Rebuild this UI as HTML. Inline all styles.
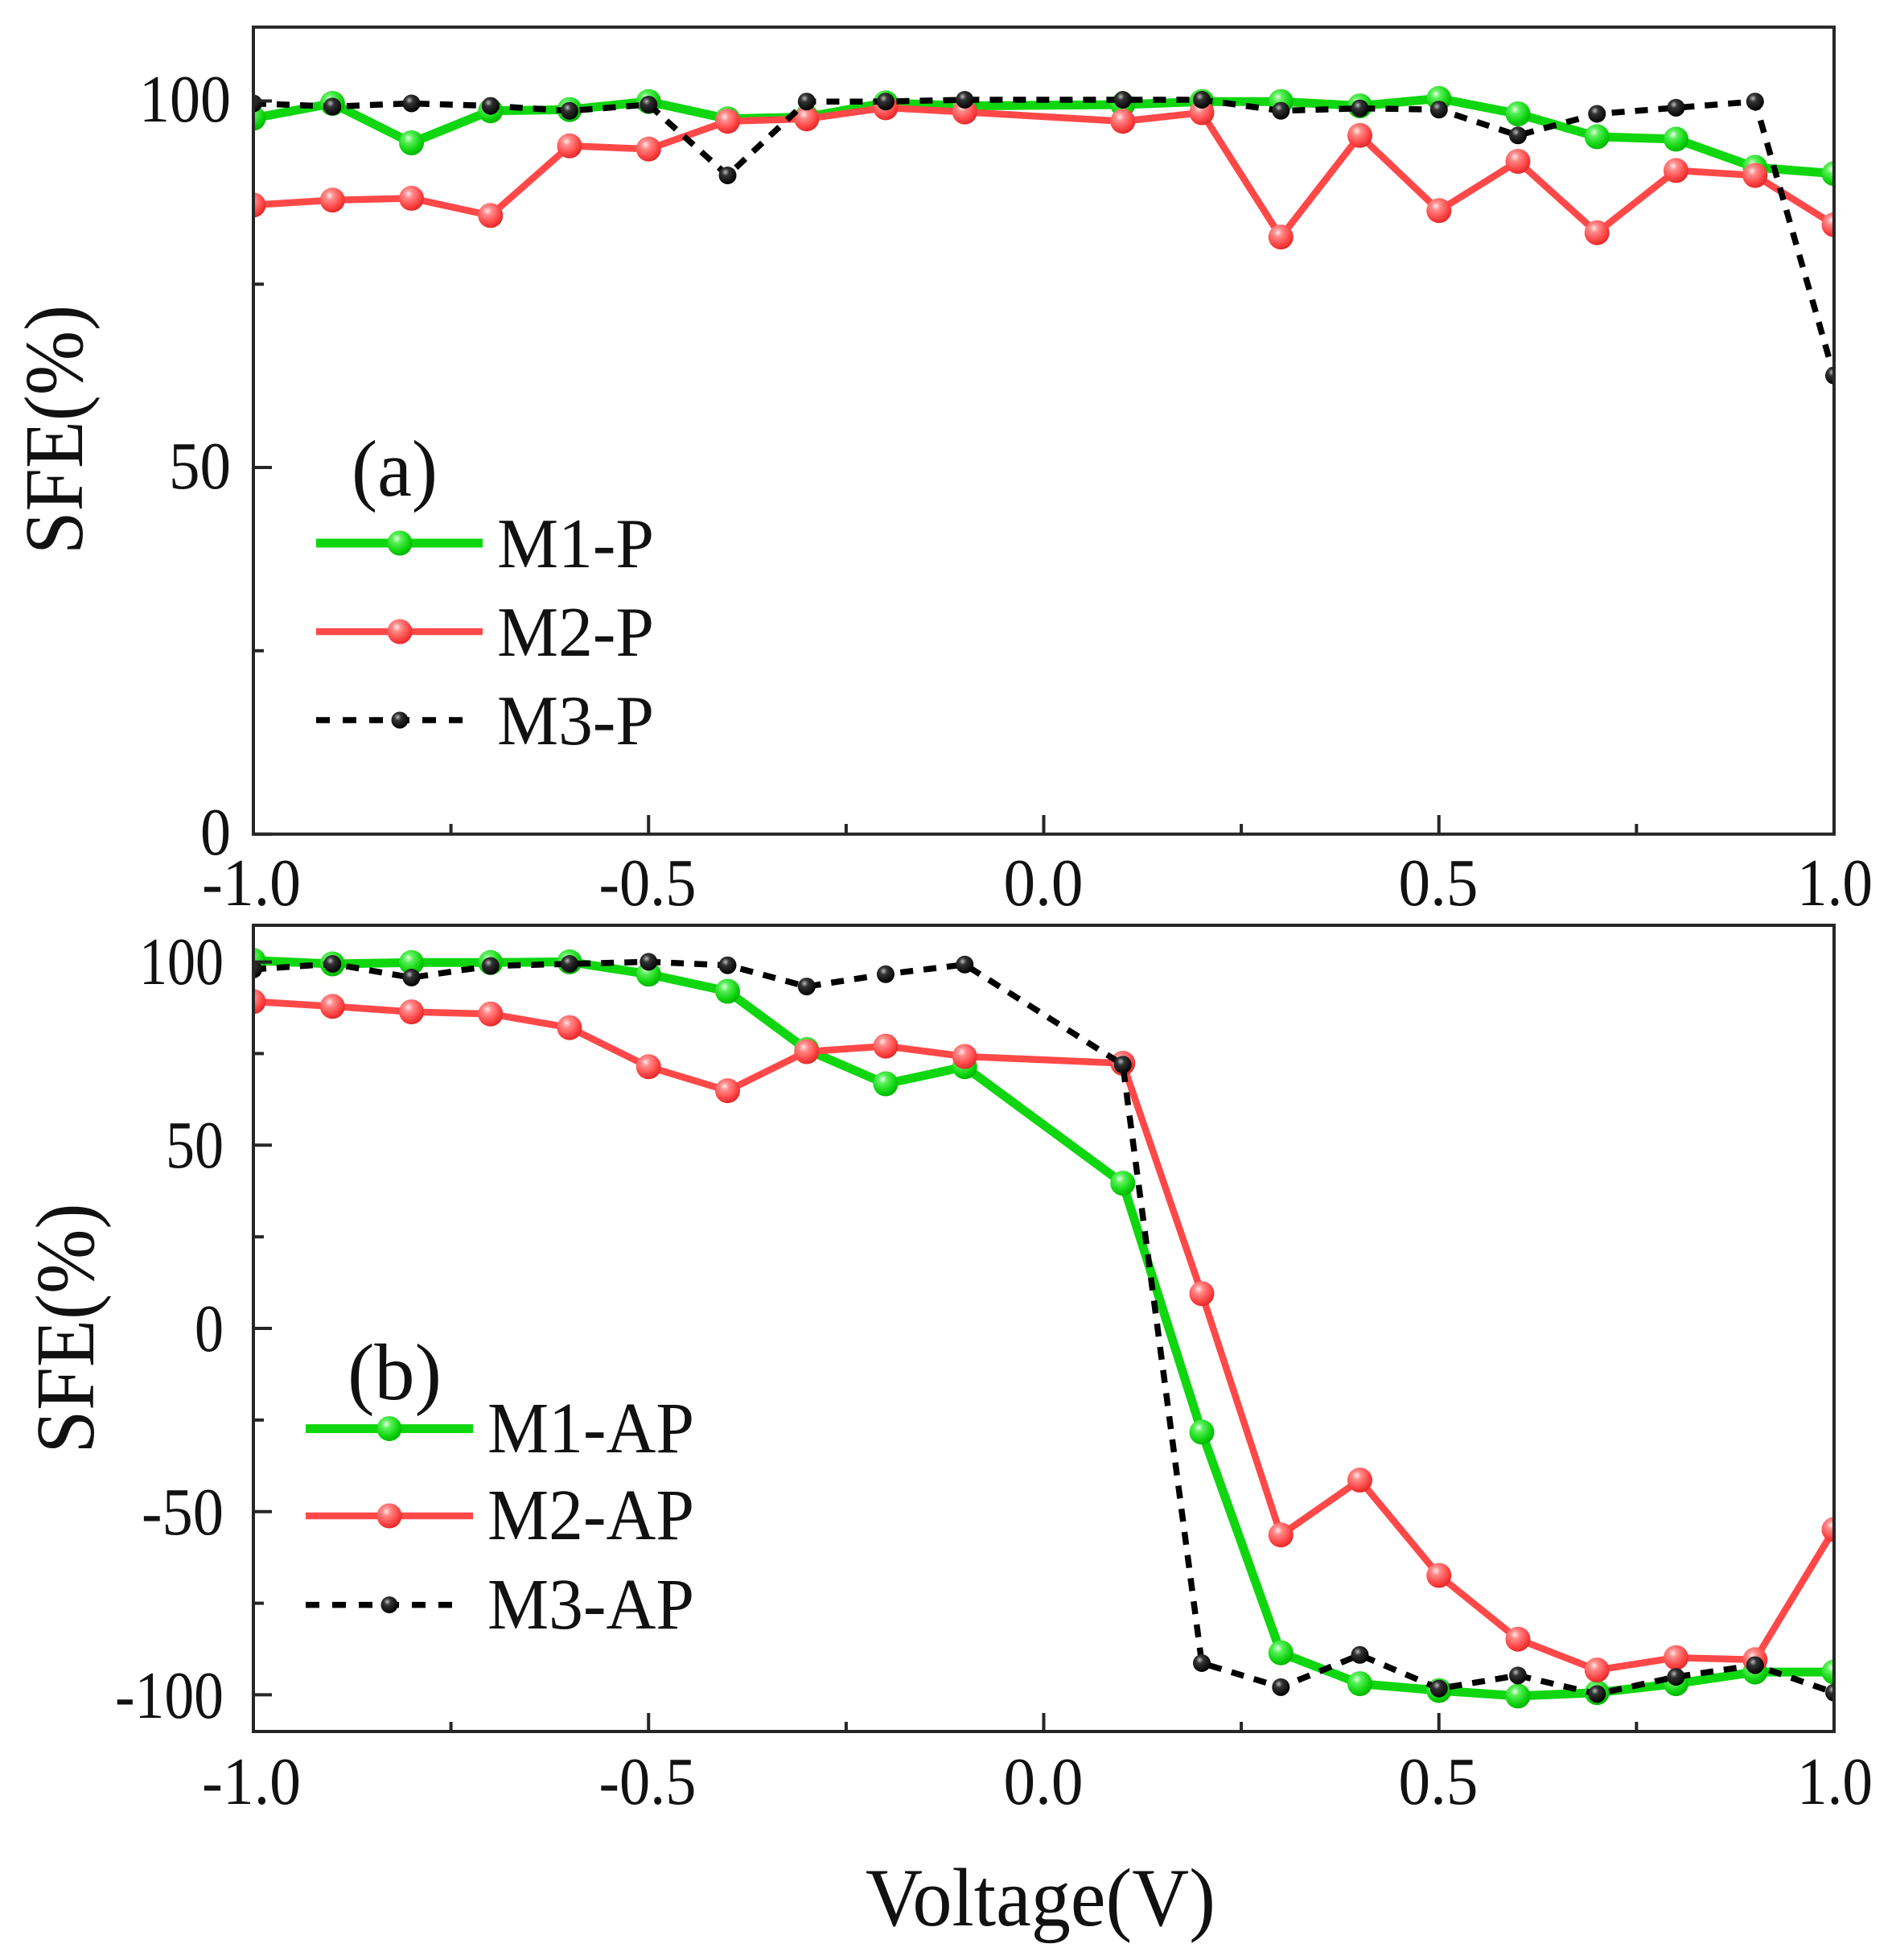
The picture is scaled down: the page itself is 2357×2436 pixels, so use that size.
<!DOCTYPE html>
<html>
<head>
<meta charset="utf-8">
<style>
html,body{margin:0;padding:0;background:#fff;}
svg{display:block;}
text{font-family:"Liberation Serif","Times New Roman",serif;fill:#111;}
</style>
</head>
<body>
<svg width="2357" height="2436" viewBox="0 0 2357 2436" xmlns="http://www.w3.org/2000/svg">
<defs>
  <radialGradient id="gg" cx="0.38" cy="0.32" r="0.7">
    <stop offset="0" stop-color="#e6ffe6"/>
    <stop offset="0.25" stop-color="#5cf05c"/>
    <stop offset="0.7" stop-color="#0fd60f"/>
    <stop offset="1" stop-color="#00b400"/>
  </radialGradient>
  <radialGradient id="rg" cx="0.38" cy="0.32" r="0.7">
    <stop offset="0" stop-color="#ffe8e8"/>
    <stop offset="0.25" stop-color="#ff8a8a"/>
    <stop offset="0.7" stop-color="#ff4646"/>
    <stop offset="1" stop-color="#e02828"/>
  </radialGradient>
  <radialGradient id="kg" cx="0.38" cy="0.32" r="0.7">
    <stop offset="0" stop-color="#bbbbbb"/>
    <stop offset="0.3" stop-color="#333333"/>
    <stop offset="1" stop-color="#000000"/>
  </radialGradient>
  <marker id="mg" markerUnits="userSpaceOnUse" markerWidth="40" markerHeight="40" refX="20" refY="20" viewBox="0 0 40 40">
    <circle cx="20" cy="20" r="15.5" fill="url(#gg)"/>
  </marker>
  <marker id="mr" markerUnits="userSpaceOnUse" markerWidth="40" markerHeight="40" refX="20" refY="20" viewBox="0 0 40 40">
    <circle cx="20" cy="20" r="15.5" fill="url(#rg)"/>
  </marker>
  <marker id="mk" markerUnits="userSpaceOnUse" markerWidth="30" markerHeight="30" refX="15" refY="15" viewBox="0 0 30 30">
    <circle cx="15" cy="15" r="11" fill="url(#kg)"/>
  </marker>
  <clipPath id="ca"><rect x="315" y="33.7" width="1965" height="1003"/></clipPath>
  <clipPath id="cb"><rect x="315" y="1150" width="1965" height="1002"/></clipPath>
</defs>

<!-- ============ PANEL (a) ============ -->
<g clip-path="url(#ca)" fill="none" stroke-linejoin="round">
  <polyline stroke="#0fd60f" stroke-width="11" marker-start="url(#mg)" marker-mid="url(#mg)" marker-end="url(#mg)"
    points="315,146.9 413.3,128.5 511.5,177.5 609.8,137.7 708,136.2 806.3,126.2 904.5,147.7 1002.8,145.4 1101,127.8 1199.3,131.6 1395.8,130 1494,126.2 1592.3,126.2 1690.5,131.6 1788.8,122.4 1887,141.5 1985.3,169.9 2083.5,172.9 2181.8,208 2280,215.8"/>
  <polyline stroke="#ff4848" stroke-width="8.5" marker-start="url(#mr)" marker-mid="url(#mr)" marker-end="url(#mr)"
    points="315,254.8 413.3,248.7 511.5,246.4 609.8,267.8 708,181.3 806.3,185.2 904.5,150.7 1002.8,147.7 1101,133.9 1199.3,139.2 1395.8,150.7 1494,140 1592.3,294.6 1690.5,168.3 1788.8,261.7 1887,200.5 1985.3,289.2 2083.5,211.9 2181.8,218 2280,279.3"/>
  <polyline stroke="#000" stroke-width="7.5" stroke-dasharray="16 13" marker-start="url(#mk)" marker-mid="url(#mk)" marker-end="url(#mk)"
    points="315,128.5 413.3,132.4 511.5,128.5 609.8,131.6 708,137.7 806.3,130 904.5,218 1002.8,126.2 1101,126.2 1199.3,124 1395.8,124 1494,124 1592.3,137.7 1690.5,134.7 1788.8,136.2 1887,168.3 1985.3,141.5 2083.5,133.9 2181.8,126.2 2280,466.7"/>
</g>
<rect x="315" y="33.7" width="1965" height="1003" fill="none" stroke="#262626" stroke-width="4"/>
<g stroke="#262626" stroke-width="4">
  <!-- x ticks -->
  <line x1="315" y1="1036.7" x2="315" y2="1013"/>
  <line x1="806.25" y1="1036.7" x2="806.25" y2="1013"/>
  <line x1="1297.5" y1="1036.7" x2="1297.5" y2="1013"/>
  <line x1="1788.75" y1="1036.7" x2="1788.75" y2="1013"/>
  <line x1="560.6" y1="1036.7" x2="560.6" y2="1024"/>
  <line x1="1051.9" y1="1036.7" x2="1051.9" y2="1024"/>
  <line x1="1543.1" y1="1036.7" x2="1543.1" y2="1024"/>
  <line x1="2034.4" y1="1036.7" x2="2034.4" y2="1024"/>
  <!-- y ticks -->
  <line x1="315" y1="1036.7" x2="338" y2="1036.7"/>
  <line x1="315" y1="581" x2="338" y2="581"/>
  <line x1="315" y1="125.5" x2="338" y2="125.5"/>
  <line x1="315" y1="808.8" x2="328" y2="808.8"/>
  <line x1="315" y1="353.2" x2="328" y2="353.2"/>
</g>
<g font-size="84" text-anchor="end">
  <text x="287" y="151" textLength="114" lengthAdjust="spacingAndGlyphs">100</text>
  <text x="287" y="607" textLength="77" lengthAdjust="spacingAndGlyphs">50</text>
  <text x="287" y="1062" textLength="38" lengthAdjust="spacingAndGlyphs">0</text>
</g>
<g font-size="84" text-anchor="middle">
  <text x="312.5" y="1125" textLength="123" lengthAdjust="spacingAndGlyphs">-1.0</text>
  <text x="805" y="1125" textLength="121" lengthAdjust="spacingAndGlyphs">-0.5</text>
  <text x="1297" y="1125" textLength="99" lengthAdjust="spacingAndGlyphs">0.0</text>
  <text x="1788" y="1125" textLength="99" lengthAdjust="spacingAndGlyphs">0.5</text>
  <text x="2281" y="1125" textLength="94" lengthAdjust="spacingAndGlyphs">1.0</text>
</g>
<text transform="translate(102,534) rotate(-90)" font-size="104" text-anchor="middle" textLength="310" lengthAdjust="spacingAndGlyphs">SFE(%)</text>

<!-- legend (a) -->
<text x="437" y="616" font-size="100" textLength="107" lengthAdjust="spacingAndGlyphs">(a)</text>
<line x1="393" y1="675" x2="600" y2="675" stroke="#0fd60f" stroke-width="11"/>
<circle cx="497" cy="675" r="15.5" fill="url(#gg)"/>
<line x1="393" y1="785" x2="600" y2="785" stroke="#ff4848" stroke-width="8.5"/>
<circle cx="497" cy="785" r="15.5" fill="url(#rg)"/>
<line x1="393" y1="895" x2="580" y2="895" stroke="#000" stroke-width="7.5" stroke-dasharray="17 16"/>
<circle cx="497" cy="895" r="10.5" fill="url(#kg)"/>
<g font-size="88">
  <text x="618" y="705" textLength="195" lengthAdjust="spacingAndGlyphs">M1-P</text>
  <text x="618" y="815" textLength="195" lengthAdjust="spacingAndGlyphs">M2-P</text>
  <text x="618" y="925" textLength="195" lengthAdjust="spacingAndGlyphs">M3-P</text>
</g>

<!-- ============ PANEL (b) ============ -->
<g clip-path="url(#cb)" fill="none" stroke-linejoin="round">
  <polyline stroke="#0fd60f" stroke-width="11" marker-start="url(#mg)" marker-mid="url(#mg)" marker-end="url(#mg)"
    points="315,1193.7 413.3,1198 511.5,1196.3 609.8,1196.3 708,1195.4 806.3,1210.8 904.5,1232 1002.8,1304.5 1101,1347 1199.3,1325.8 1395.8,1470.6 1494,1779.9 1592.3,2054.2 1690.5,2092.6 1788.8,2101.1 1887,2107.9 1985.3,2103.7 2083.5,2092.6 2181.8,2078.1 2280,2078.1"/>
  <polyline stroke="#ff4848" stroke-width="8.5" marker-start="url(#mr)" marker-mid="url(#mr)" marker-end="url(#mr)"
    points="315,1244.8 413.3,1250.8 511.5,1257.6 609.8,1260.2 708,1277.2 806.3,1325.8 904.5,1355.6 1002.8,1307 1101,1300.2 1199.3,1313 1395.8,1321.5 1494,1607.8 1592.3,1907.7 1690.5,1839.5 1788.8,1958 1887,2037.2 1985.3,2075.6 2083.5,2060.2 2181.8,2062.8 2280,1900.9"/>
  <polyline stroke="#000" stroke-width="7.5" stroke-dasharray="16 13" marker-start="url(#mk)" marker-mid="url(#mk)" marker-end="url(#mk)"
    points="315,1204.8 413.3,1198 511.5,1215 609.8,1200.5 708,1198 806.3,1195.4 904.5,1199.7 1002.8,1226.1 1101,1210.8 1199.3,1198.8 1395.8,1323.2 1494,2067 1592.3,2096.9 1690.5,2056.8 1788.8,2098.6 1887,2082.4 1985.3,2105.4 2083.5,2084.1 2181.8,2069.6 2280,2103.7"/>
</g>
<rect x="315" y="1150" width="1965" height="1002" fill="none" stroke="#262626" stroke-width="4"/>
<g stroke="#262626" stroke-width="4">
  <line x1="315" y1="2152" x2="315" y2="2129"/>
  <line x1="806.25" y1="2152" x2="806.25" y2="2129"/>
  <line x1="1297.5" y1="2152" x2="1297.5" y2="2129"/>
  <line x1="1788.75" y1="2152" x2="1788.75" y2="2129"/>
  <line x1="560.6" y1="2152" x2="560.6" y2="2140"/>
  <line x1="1051.9" y1="2152" x2="1051.9" y2="2140"/>
  <line x1="1543.1" y1="2152" x2="1543.1" y2="2140"/>
  <line x1="2034.4" y1="2152" x2="2034.4" y2="2140"/>
  <line x1="315" y1="1195.6" x2="338" y2="1195.6"/>
  <line x1="315" y1="1423.3" x2="338" y2="1423.3"/>
  <line x1="315" y1="1651" x2="338" y2="1651"/>
  <line x1="315" y1="1878.7" x2="338" y2="1878.7"/>
  <line x1="315" y1="2106.4" x2="338" y2="2106.4"/>
  <line x1="315" y1="1309.4" x2="328" y2="1309.4"/>
  <line x1="315" y1="1537.2" x2="328" y2="1537.2"/>
  <line x1="315" y1="1764.9" x2="328" y2="1764.9"/>
  <line x1="315" y1="1992.6" x2="328" y2="1992.6"/>
</g>
<g font-size="84" text-anchor="end">
  <text x="278" y="1223" textLength="105" lengthAdjust="spacingAndGlyphs">100</text>
  <text x="278" y="1451" textLength="72" lengthAdjust="spacingAndGlyphs">50</text>
  <text x="278" y="1679" textLength="36" lengthAdjust="spacingAndGlyphs">0</text>
  <text x="278" y="1907" textLength="102" lengthAdjust="spacingAndGlyphs">-50</text>
  <text x="278" y="2135" textLength="135" lengthAdjust="spacingAndGlyphs">-100</text>
</g>
<g font-size="84" text-anchor="middle">
  <text x="312.5" y="2242" textLength="123" lengthAdjust="spacingAndGlyphs">-1.0</text>
  <text x="805" y="2242" textLength="121" lengthAdjust="spacingAndGlyphs">-0.5</text>
  <text x="1297" y="2242" textLength="99" lengthAdjust="spacingAndGlyphs">0.0</text>
  <text x="1788" y="2242" textLength="99" lengthAdjust="spacingAndGlyphs">0.5</text>
  <text x="2281" y="2242" textLength="94" lengthAdjust="spacingAndGlyphs">1.0</text>
</g>
<text transform="translate(116,1651) rotate(-90)" font-size="104" text-anchor="middle" textLength="311" lengthAdjust="spacingAndGlyphs">SFE(%)</text>

<!-- legend (b) -->
<text x="432" y="1739" font-size="100" textLength="117" lengthAdjust="spacingAndGlyphs">(b)</text>
<line x1="380" y1="1775.6" x2="588" y2="1775.6" stroke="#0fd60f" stroke-width="11"/>
<circle cx="484" cy="1775.6" r="15.5" fill="url(#gg)"/>
<line x1="380" y1="1884" x2="588" y2="1884" stroke="#ff4848" stroke-width="8.5"/>
<circle cx="484" cy="1884" r="15.5" fill="url(#rg)"/>
<line x1="380" y1="1994.6" x2="566" y2="1994.6" stroke="#000" stroke-width="7.5" stroke-dasharray="17 16"/>
<circle cx="484" cy="1994.6" r="10.5" fill="url(#kg)"/>
<g font-size="90">
  <text x="606" y="1805" textLength="257" lengthAdjust="spacingAndGlyphs">M1-AP</text>
  <text x="606" y="1913" textLength="257" lengthAdjust="spacingAndGlyphs">M2-AP</text>
  <text x="606" y="2024" textLength="257" lengthAdjust="spacingAndGlyphs">M3-AP</text>
</g>

<!-- x axis title -->
<text x="1293.5" y="2393" font-size="103" text-anchor="middle" textLength="435" lengthAdjust="spacingAndGlyphs">Voltage(V)</text>
</svg>
</body>
</html>
